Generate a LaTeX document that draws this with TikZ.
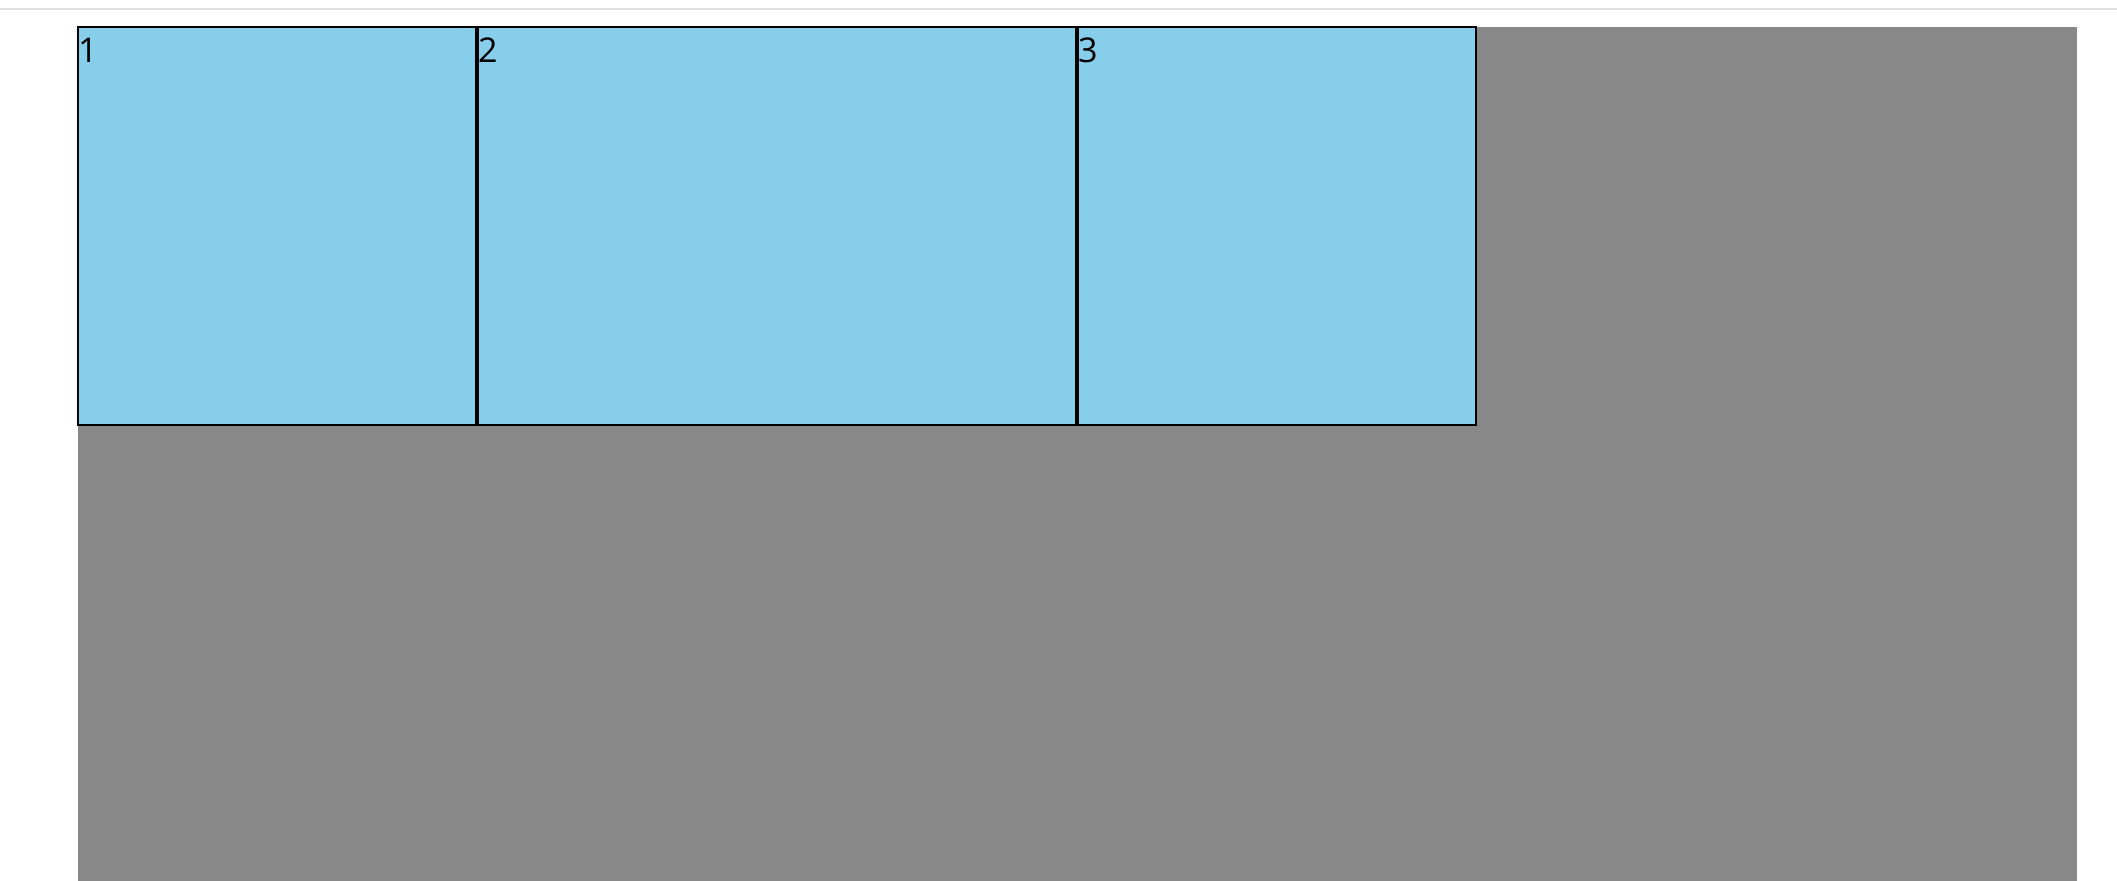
\documentclass[tikz,border=0pt]{standalone}
\usepackage{fontspec}
\setsansfont{Open Sans}
\usepackage{tikz}
\usetikzlibrary{positioning}
\definecolor{areagray}{RGB}{136, 136, 136}
\definecolor{cellblue}{RGB}{135, 206, 235}
\definecolor{ruleline}{RGB}{224, 224, 224}

\begin{document}
\begin{tikzpicture}[
    font=\sffamily\fontsize{9.7}{12}\selectfont,
    area/.style={rectangle, fill=areagray, draw=none, inner sep=0pt,
                 minimum width=19.99cm, minimum height=8.54cm},
    cell/.style={rectangle, fill=cellblue, draw=black, line width=0.02cm,
                 minimum height=3.98cm, inner sep=0pt},
    celllabel/.style={inner sep=0pt, text=black},
    topline/.style={draw=ruleline, line width=0.02cm},
]
\useasboundingbox (0,0) rectangle (21.17,-8.8);

% ============================================================
% PAGE RULE
% ============================================================
\coordinate (ruleL) at (0,-0.09);
\coordinate (ruleR) at (21.17,-0.09);
\draw[topline] (ruleL) -- (ruleR);

% ============================================================
% CONTAINER
% ============================================================
\node[area, anchor=north west] (container) at (0.77,-0.26) {};

% ============================================================
% CELLS (one row)
% ============================================================
\node[cell, minimum width=3.98cm, anchor=north west] (cell1) at (container.north west) {};
\node[cell, minimum width=5.98cm, right=0pt of cell1] (cell2) {};
\node[cell, minimum width=3.98cm, right=0pt of cell2] (cell3) {};

% labels in the top left corners
\node[celllabel, below right=0.11cm and 0.005cm of cell1.north west] (label1) {1};
\node[celllabel, below right=0.11cm and 0.005cm of cell2.north west] (label2) {2};
\node[celllabel, below right=0.11cm and 0.005cm of cell3.north west] (label3) {3};

\end{tikzpicture}
\end{document}
